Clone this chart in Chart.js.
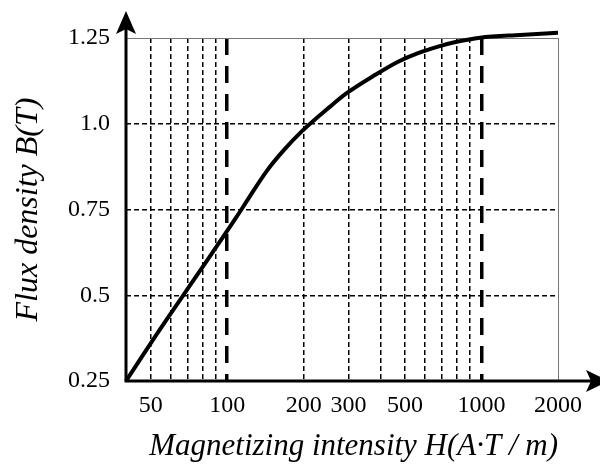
<!DOCTYPE html>
<html>
<head>
<meta charset="utf-8">
<script src="https://cdn.jsdelivr.net/npm/chart.js@4"></script>
<style>
  html, body { margin: 0; padding: 0; background: #fff; }
  canvas { display: block; }
</style>
</head>
<body>
<canvas id="bh" width="600" height="464"></canvas>
<script>
// B-H curve
const H_VALUES = [40, 54, 78, 109, 121, 143, 167, 196, 254, 295, 381, 470, 563, 675, 799, 987, 1417, 2000];
const B_VALUES = [0.25, 0.397, 0.57, 0.729, 0.781, 0.862, 0.923, 0.977, 1.05, 1.089, 1.142, 1.181, 1.206, 1.225, 1.239, 1.251, 1.259, 1.265];

const X_GRID = [50, 60, 70, 80, 90, 100, 200, 300, 400, 500, 600, 700, 800, 900, 1000, 2000];
const X_LABELS = [50, 100, 200, 300, 500, 1000, 2000];
const X_MAJOR = [100, 1000];
const Y_TICKS = [0.25, 0.5, 0.75, 1.0, 1.25];
const Y_LABELS = ["0.25", "0.5", "0.75", "1.0", "1.25"];

const SERIF = "'Liberation Serif', 'Times New Roman', serif";

function gridStyle(value, lastValue) {
  if (value === lastValue) return { color: "#777", width: 1, dash: [] };
  if (X_MAJOR.includes(value)) return { color: "#000", width: 3.5, dash: [17, 11] };
  return { color: "#000", width: 1.5, dash: [5, 3] };
}

function yGridStyle(value) {
  if (value === Y_TICKS[0]) return { color: "rgba(0,0,0,0)", width: 0, dash: [] };
  if (value === Y_TICKS[Y_TICKS.length - 1]) return { color: "#777", width: 1, dash: [] };
  return { color: "#000", width: 1.5, dash: [5, 3] };
}

// axis lines with arrow heads
const axesArrows = {
  id: "axesArrows",
  afterDraw(chart) {
    const { ctx, chartArea: { left, bottom } } = chart;
    ctx.save();
    ctx.strokeStyle = "#000";
    ctx.fillStyle = "#000";
    ctx.lineWidth = 3;
    ctx.setLineDash([]);
    ctx.beginPath();
    ctx.moveTo(left, bottom + 1.5);
    ctx.lineTo(left, 28);
    ctx.moveTo(left - 1.5, bottom);
    ctx.lineTo(592, bottom);
    ctx.stroke();

    ctx.beginPath();
    ctx.moveTo(left, 11);
    ctx.lineTo(left - 10, 34);
    ctx.lineTo(left, 29);
    ctx.lineTo(left + 10, 34);
    ctx.closePath();
    ctx.fill();

    ctx.beginPath();
    ctx.moveTo(609, bottom);
    ctx.lineTo(586, bottom - 11);
    ctx.lineTo(591, bottom);
    ctx.lineTo(586, bottom + 11);
    ctx.closePath();
    ctx.fill();
    ctx.restore();
  },
};

new Chart(document.getElementById("bh"), {
  type: "line",
  data: {
    datasets: [{
      data: H_VALUES.map((h, i) => ({ x: h, y: B_VALUES[i] })),
      borderColor: "#000",
      borderWidth: 4,
      pointRadius: 0,
      cubicInterpolationMode: "monotone",
      clip: false,
    }],
  },
  options: {
    responsive: false,
    animation: false,
    layout: { padding: { left: 0, top: 38, right: 42, bottom: 0 } },
    plugins: { legend: { display: false }, tooltip: { enabled: false } },
    scales: {
      x: {
        type: "logarithmic",
        min: 40,
        max: 2000,
        afterBuildTicks: (scale) => {
          scale.ticks = X_GRID.map((v) => ({ value: v }));
        },
        afterFit: (scale) => { scale.height = 83; },
        grid: {
          drawTicks: false,
          color: (c) => gridStyle(c.tick.value, X_GRID[X_GRID.length - 1]).color,
          lineWidth: (c) => gridStyle(c.tick.value, X_GRID[X_GRID.length - 1]).width,
        },
        border: {
          display: false,
          dash: (c) => gridStyle(c.tick.value, X_GRID[X_GRID.length - 1]).dash,
        },
        ticks: {
          autoSkip: false,
          maxRotation: 0,
          padding: 10,
          color: "#000",
          font: { family: SERIF, size: 24 },
          callback: (value) => (X_LABELS.includes(value) ? String(value) : ""),
        },
        title: {
          display: true,
          // leading spaces nudge the centred title a little to the right
          text: "\u00a0\u00a0\u00a0Magnetizing intensity H(A·T / m)",
          color: "#000",
          font: { family: SERIF, size: 32, style: "italic" },
          padding: { top: 0, bottom: -2 },
        },
      },
      y: {
        type: "linear",
        min: 0.25,
        max: 1.25,
        afterBuildTicks: (scale) => {
          scale.ticks = Y_TICKS.map((v) => ({ value: v }));
        },
        afterFit: (scale) => { scale.width = 126; },
        grid: {
          drawTicks: false,
          color: (c) => yGridStyle(c.tick.value).color,
          lineWidth: (c) => yGridStyle(c.tick.value).width,
        },
        border: {
          display: false,
          dash: (c) => yGridStyle(c.tick.value).dash,
        },
        ticks: {
          padding: 16,
          color: "#000",
          font: { family: SERIF, size: 24 },
          callback: (value) => Y_LABELS[Y_TICKS.indexOf(value)] ?? "",
        },
        title: {
          display: true,
          text: "Flux density B(T)",
          color: "#000",
          font: { family: SERIF, size: 32, style: "italic" },
          padding: { top: 9, bottom: 0 },
        },
      },
    },
  },
  plugins: [axesArrows],
});
</script>
</body>
</html>
